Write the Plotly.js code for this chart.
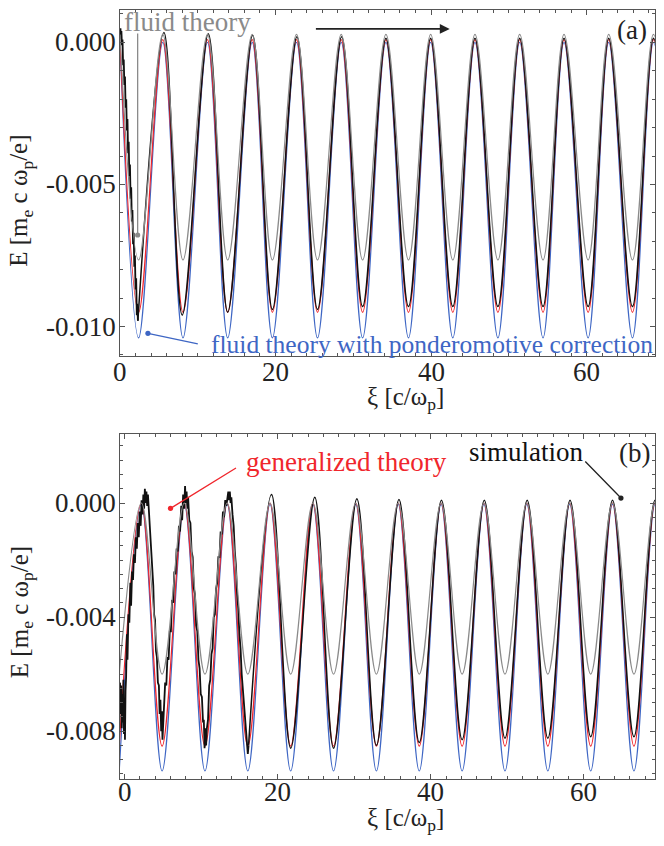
<!DOCTYPE html>
<html>
<head>
<meta charset="utf-8">
<script src="https://cdn.plot.ly/plotly-3.0.1.min.js"></script>
<style>
  html, body { margin: 0; padding: 0; background: #fff; }
  #chart { width: 664px; height: 846px; }
</style>
</head>
<body>
<div id="chart"></div>
<script>
// ---- panel (a): extrema ----
const aPeakX   = [0.0, 5.5, 11.25, 17.0, 22.7, 28.45, 34.2, 39.95, 45.65, 51.4, 57.1, 62.85, 68.6];
const aTroughX = [2.4, 8.1, 13.85, 19.6, 25.4, 31.2, 37.1, 42.8, 48.6, 54.4, 60.2, 65.9, 71.5];

const aFluidPeak    = [0.00028, 0.00028, 0.00028, 0.00028, 0.00028, 0.00028, 0.00028, 0.00028, 0.00028, 0.00028, 0.00028, 0.00028, 0.00028];
const aFluidTrough  = [-0.00766, -0.00766, -0.00766, -0.00766, -0.00766, -0.00766, -0.00766, -0.00766, -0.00766, -0.00766, -0.00766, -0.00766, -0.00766];
const aGenPeak      = [0.0001, 0.0001, 0.0001, 0.0001, 0.0001, 0.0001, 0.0001, 0.0001, 0.0001, 0.0001, 0.0001, 0.0001, 0.0001];
const aGenTrough    = [-0.0095, -0.0095, -0.0095, -0.0095, -0.0095, -0.0095, -0.0095, -0.0095, -0.0095, -0.0095, -0.0095, -0.0095, -0.0095];
const aPondPeak     = [0.0, 0.0, 0.0, 0.0, 0.0, 0.0, 0.0, 0.0, 0.0, 0.0, 0.0, 0.0, 0.0];
const aPondTrough   = [-0.0104, -0.0104, -0.0104, -0.0104, -0.0104, -0.0104, -0.0104, -0.0104, -0.0104, -0.0104, -0.0104, -0.0104, -0.0104];

// simulation: noisy head, then smooth extrema
const aSimNoiseX = [0.0, 0.06, 0.12, 0.18, 0.25, 0.32, 0.4, 0.48, 0.56, 0.64, 0.72, 0.8, 0.88, 0.96, 1.04, 1.12, 1.2, 1.28, 1.36, 1.44, 1.52, 1.6, 1.68, 1.76, 1.84, 1.92, 2.0, 2.08, 2.16, 2.23, 2.3];
const aSimNoiseY = [0.0001, 0.0005, 0.0001, 0.0004, -0.0001, 0.0001, -0.0008, -0.0006, -0.0015, -0.0012, -0.0023, -0.0020, -0.0031, -0.0027, -0.0039, -0.0035, -0.0047, -0.0043, -0.0055, -0.0051, -0.0063, -0.0059, -0.0071, -0.0067, -0.0079, -0.0075, -0.0087, -0.0083, -0.0096, -0.0092, -0.0098];
const aSimX = [2.3, 5.65, 8.0, 11.35, 13.85, 17.05, 19.6, 22.75, 25.4, 28.5, 31.2, 34.2, 37.1, 39.95, 42.8, 45.65, 48.6, 51.4, 54.4, 57.1, 60.2, 62.85, 65.9, 68.6, 71.5];
const aSimY = [-0.0098, 0.00035, -0.0096, 0.0003, -0.0095, 0.00025, -0.0094, 0.0002, -0.0094, 0.0002, -0.0093, 0.00015, -0.0093, 0.00015, -0.0093, 0.00015, -0.0093, 0.00015, -0.0093, 0.00015, -0.0093, 0.00015, -0.0093, 0.00015, -0.0093];

// ---- panel (b) ----
const bTroughX = [-0.7, 4.9, 10.5, 16.1, 21.7, 27.3, 32.9, 38.5, 44.1, 49.7, 55.3, 60.9, 66.55, 72.1];
const bPeakX   = [2.2, 7.8, 13.4, 19.0, 24.6, 30.2, 35.75, 41.35, 46.95, 52.55, 58.15, 63.75, 69.3];

const bFluidTrough = [-0.006, -0.006, -0.006, -0.006, -0.006, -0.006, -0.006, -0.006, -0.006, -0.006, -0.006, -0.006, -0.006, -0.006];
const bFluidPeak   = [0.0, 0.0, 0.0, 0.0, 0.0, 0.0, 0.0, 0.0, 0.0, 0.0, 0.0, 0.0, 0.0];
const bGenTrough   = [-0.00853, -0.00853, -0.00853, -0.00853, -0.00853, -0.00853, -0.00853, -0.00853, -0.00853, -0.00853, -0.00853, -0.00853, -0.00853, -0.00853];
const bGenPeak     = [0.0, 0.0, 0.0, 0.0, 0.0, 0.0, 0.0, 0.0, 0.0, 0.0, 0.0, 0.0, 0.0];
const bPondTrough  = [-0.0094, -0.0094, -0.0094, -0.0094, -0.0094, -0.0094, -0.0094, -0.0094, -0.0094, -0.0094, -0.0094, -0.0094, -0.0094, -0.0094];
const bPondPeak    = [-0.00005, -0.00005, -0.00005, -0.00005, -0.00005, -0.00005, -0.00005, -0.00005, -0.00005, -0.00005, -0.00005, -0.00005, -0.00005];

const bSimNoiseX = [-0.6, -0.52, -0.45, -0.38, -0.3, -0.22, -0.15, -0.08, 0.0, 0.05, 0.12,
  0.2, 0.3, 0.38, 0.5, 0.62, 0.75, 0.85, 0.98, 1.1, 1.22, 1.35, 1.48, 1.6, 1.72, 1.85, 1.98, 2.1, 2.22, 2.35, 2.45, 2.55, 2.65, 2.75, 2.85, 2.95, 3.05, 3.15,
  3.25, 3.38, 3.5, 3.62, 3.75, 3.85, 3.98, 4.1, 4.22, 4.35, 4.48, 4.58, 4.68, 4.78, 4.88, 4.95, 5.05,
  5.15, 5.3, 5.45, 5.6, 5.75, 5.9, 6.05, 6.2, 6.35, 6.5, 6.65, 6.8, 6.95, 7.1, 7.25, 7.4, 7.52, 7.65, 7.78, 7.9, 8.0, 8.1, 8.2, 8.3,
  8.45, 8.6, 8.75, 8.9, 9.05, 9.2, 9.35, 9.5, 9.65, 9.8, 9.95, 10.1, 10.25, 10.35, 10.45, 10.55, 10.65, 10.75,
  10.9, 11.05, 11.2, 11.35, 11.5, 11.65, 11.8, 11.95, 12.1, 12.25, 12.4, 12.55, 12.7, 12.85, 13.0, 13.15, 13.3, 13.42, 13.55, 13.65, 13.75, 13.85, 13.95,
  14.1, 14.25, 14.4, 14.55, 14.7, 14.85, 15.0, 15.15, 15.3, 15.45, 15.6, 15.75, 15.88, 16.0, 16.1, 16.2];
const bSimNoiseY = [-0.0063, -0.0074, -0.0064, -0.0079, -0.0067, -0.0077, -0.0062, -0.0081, -0.0069, -0.0083, -0.0066,
  -0.0061, -0.0046, -0.0055, -0.0039, -0.0042, -0.0028, -0.0036, -0.0024, -0.0027, -0.0018, -0.0021, -0.0012, -0.0016, -0.0007, -0.0012, -0.0003, -0.0008, 0.0001, -0.0004, 0.0003, -0.0002, 0.0005, 0.0000, 0.0004, -0.0001, 0.0003, -0.0002,
  -0.0004, -0.0013, -0.0016, -0.0026, -0.0029, -0.0039, -0.0041, -0.0052, -0.0054, -0.0063, -0.0064, -0.0074, -0.0069, -0.0080, -0.0073, -0.0083, -0.0076,
  -0.0074, -0.0063, -0.0064, -0.0054, -0.0055, -0.0045, -0.0045, -0.0034, -0.0035, -0.0024, -0.0025, -0.0016, -0.0017, -0.0008, -0.0010, -0.0001, -0.0006, 0.0003, -0.0002, 0.0006, 0.0000, 0.0004, -0.0002, 0.0002,
  -0.0006, -0.0007, -0.0017, -0.0019, -0.0030, -0.0032, -0.0043, -0.0045, -0.0055, -0.0058, -0.0067, -0.0068, -0.0077, -0.0076, -0.0086, -0.0079, -0.0085, -0.0079,
  -0.0076, -0.0064, -0.0062, -0.0053, -0.0051, -0.0040, -0.0039, -0.0030, -0.0028, -0.0019, -0.0019, -0.0010, -0.0011, -0.0003, -0.0005, 0.0001, -0.0001, 0.0002, 0.0004, 0.0001, 0.0004, 0.0000, 0.0002,
  -0.0004, -0.0008, -0.0017, -0.0022, -0.0032, -0.0037, -0.0046, -0.0051, -0.0060, -0.0065, -0.0072, -0.0076, -0.0082, -0.0083, -0.0088, -0.0085];
const bSimX = [16.2, 19.2, 21.7, 24.85, 27.3, 30.35, 32.9, 35.85, 38.5, 41.4, 44.1, 47.0, 49.7, 52.6, 55.3, 58.2, 60.9, 63.75, 66.55, 69.3, 72.1];
const bSimY = [-0.0085, 0.0003, -0.0086, 0.0002, -0.0086, 0.00015, -0.0085, 0.00012, -0.0084, 0.0001, -0.0083, 0.0001, -0.00825, 0.0001, -0.00825, 0.0001, -0.0082, 0.0001, -0.0082, 0.0001, -0.0082];

// tick labels
const aXTicks = [0, 20, 40, 60];
const aYTicks = [0, -0.005, -0.010];
const aYLabels = ['0.000', '-0.005', '-0.010'];
const bXTicks = [0, 20, 40, 60];
const bYTicks = [0, -0.004, -0.008];
const bYLabels = ['0.000', '-0.004', '-0.008'];

// merge two extrema lists (first list starts the curve)
function weave(firstX, firstY, secondX, secondY) {
  const xs = [], ys = [];
  for (let i = 0; i < firstX.length; i++) {
    xs.push(firstX[i]); ys.push(firstY[i]);
    if (i < secondX.length) { xs.push(secondX[i]); ys.push(secondY[i]); }
  }
  return { x: xs, y: ys };
}

const GRAY = '#8a8a8a', RED = '#f0262c', BLUE = '#3e66c4', BLACK = '#111';
const FONT = '"Liberation Serif", "DejaVu Serif", serif';
const TICKFONT = { family: FONT, size: 27, color: '#222' };

function smooth(pts, color, xa, ya, w) {
  return { x: pts.x, y: pts.y, xaxis: xa, yaxis: ya, type: 'scatter', mode: 'lines',
    line: { color: color, width: w || 1.2, shape: 'spline', smoothing: 1 }, hoverinfo: 'skip' };
}
function rough(xs, ys, color, xa, ya, w) {
  return { x: xs, y: ys, xaxis: xa, yaxis: ya, type: 'scatter', mode: 'lines',
    line: { color: color, width: w }, hoverinfo: 'skip' };
}

const traces = [
  smooth(weave(aPeakX, aPondPeak, aTroughX, aPondTrough), BLUE, 'x', 'y'),
  smooth(weave(aPeakX, aGenPeak, aTroughX, aGenTrough), RED, 'x', 'y'),
  rough(aSimNoiseX, aSimNoiseY, BLACK, 'x', 'y', 1.8),
  smooth({ x: aSimX, y: aSimY }, BLACK, 'x', 'y', 1.5),
  smooth(weave(aPeakX, aFluidPeak, aTroughX, aFluidTrough), GRAY, 'x', 'y'),

  smooth(weave(bTroughX, bPondTrough, bPeakX, bPondPeak), BLUE, 'x2', 'y2'),
  smooth(weave(bTroughX, bGenTrough, bPeakX, bGenPeak), RED, 'x2', 'y2'),
  rough(bSimNoiseX, bSimNoiseY, BLACK, 'x2', 'y2', 1.8),
  smooth({ x: bSimX, y: bSimY }, BLACK, 'x2', 'y2', 1.5),
  smooth(weave(bTroughX, bFluidTrough, bPeakX, bFluidPeak), GRAY, 'x2', 'y2')
];

function axis(extra) {
  return Object.assign({
    showgrid: false, zeroline: false, showline: true, linecolor: '#555', linewidth: 1,
    mirror: 'allticks', ticks: 'inside', ticklen: 5, tickcolor: '#555', tickwidth: 1,
    tickmode: 'array', showticklabels: false
  }, extra);
}

// tick labels placed next to the axes (closer than plotly's default offset)
function xLabels(vals, xref, paperY, shift) {
  return vals.map(v => ({ xref: xref, yref: 'paper', x: v, y: paperY, yshift: shift,
    xanchor: 'center', yanchor: 'middle', text: String(v), showarrow: false, font: TICKFONT }));
}
function yLabels(vals, texts, yref) {
  return vals.map((v, i) => ({ xref: 'paper', yref: yref, x: 0, xshift: -2, y: v,
    xanchor: 'right', yanchor: 'middle', text: texts[i], showarrow: false, font: TICKFONT }));
}

const layout = {
  width: 664, height: 846,
  margin: { l: 120, r: 9, t: 10, b: 67 },
  paper_bgcolor: '#fff', plot_bgcolor: '#fff',
  showlegend: false,
  font: { family: FONT },
  xaxis: axis({ domain: [0, 1], anchor: 'y', range: [0, 68.8], tickvals: aXTicks,
    minor: { ticks: 'inside', ticklen: 3, tickmode: 'linear', tick0: 0, dtick: 2, tickcolor: '#555' } }),
  yaxis: axis({ domain: [0.55, 1], anchor: 'x', range: [-0.01104, 0.00114], tickvals: aYTicks,
    minor: { ticks: 'inside', ticklen: 3, tickmode: 'linear', tick0: 0, dtick: 0.001, tickcolor: '#555' } }),
  xaxis2: axis({ domain: [0, 1], anchor: 'y2', range: [-0.6, 69.3], tickvals: bXTicks,
    minor: { ticks: 'inside', ticklen: 3, tickmode: 'linear', tick0: 0, dtick: 2, tickcolor: '#555' } }),
  yaxis2: axis({ domain: [0, 0.4486], anchor: 'x2', range: [-0.00968, 0.00242], tickvals: bYTicks,
    minor: { ticks: 'inside', ticklen: 3, tickmode: 'linear', tick0: 0, dtick: 0.0005, tickcolor: '#555' } }),
  annotations: [
    ...xLabels(aXTicks, 'x', 0.55, -16),
    ...yLabels(aYTicks, aYLabels, 'y'),
    ...xLabels(bXTicks, 'x2', 0, -13),
    ...yLabels(bYTicks, bYLabels, 'y2'),

    // axis titles
    { xref: 'paper', yref: 'paper', x: -0.185, y: 0.752, xanchor: 'center', yanchor: 'middle',
      text: 'E [m<sub>e</sub> c ω<sub>p</sub>/e]', textangle: -90,
      showarrow: false, font: { family: FONT, size: 25, color: '#222' } },
    { xref: 'paper', yref: 'paper', x: 0.533, y: 0.4954, xanchor: 'center', yanchor: 'middle',
      text: 'ξ [c/ω<sub>p</sub>]', showarrow: false, font: { family: FONT, size: 25, color: '#222' } },
    { xref: 'paper', yref: 'paper', x: -0.185, y: 0.217, xanchor: 'center', yanchor: 'middle',
      text: 'E [m<sub>e</sub> c ω<sub>p</sub>/e]', textangle: -90,
      showarrow: false, font: { family: FONT, size: 25, color: '#222' } },
    { xref: 'paper', yref: 'paper', x: 0.533, y: -0.053, xanchor: 'center', yanchor: 'middle',
      text: 'ξ [c/ω<sub>p</sub>]', showarrow: false, font: { family: FONT, size: 25, color: '#222' } },

    // panel (a)
    { xref: 'x', yref: 'y', x: 0.2, y: 0.00072, xanchor: 'left', yanchor: 'middle', text: 'fluid theory',
      showarrow: false, font: { family: FONT, size: 27, color: GRAY } },
    { xref: 'x', yref: 'y', x: 2.27, y: -0.00678, axref: 'x', ayref: 'y', ax: 2.27, ay: 0.00037, text: '',
      showarrow: true, arrowhead: 6, arrowsize: 1, arrowwidth: 1.3, arrowcolor: GRAY },
    { xref: 'x', yref: 'y', x: 42.4, y: 0.000475, axref: 'x', ayref: 'y', ax: 25.0, ay: 0.000475, text: '',
      showarrow: true, arrowhead: 2, arrowsize: 1.1, arrowwidth: 1.8, arrowcolor: '#222' },
    { xref: 'x', yref: 'y', x: 65.8, y: 0.00044, xanchor: 'center', yanchor: 'middle', text: '(a)',
      showarrow: false, font: { family: FONT, size: 27, color: '#222' } },
    { xref: 'x', yref: 'y', x: 11.5, y: -0.01065, xanchor: 'left', yanchor: 'middle',
      text: 'fluid theory with ponderomotive correction',
      showarrow: false, font: { family: FONT, size: 25.5, color: BLUE } },
    { xref: 'x', yref: 'y', x: 3.59, y: -0.01024, axref: 'x', ayref: 'y', ax: 10.2, ay: -0.01062, text: '',
      showarrow: true, arrowhead: 6, arrowsize: 1, arrowwidth: 1.3, arrowcolor: BLUE },

    // panel (b)
    { xref: 'x2', yref: 'y2', x: 29.05, y: 0.00144, xanchor: 'center', yanchor: 'middle', text: 'generalized theory',
      showarrow: false, font: { family: FONT, size: 27, color: RED } },
    { xref: 'x2', yref: 'y2', x: 6.0, y: -0.000186, axref: 'x2', ayref: 'y2', ax: 14.75, ay: 0.00126, text: '',
      showarrow: true, arrowhead: 6, arrowsize: 1, arrowwidth: 1.3, arrowcolor: RED },
    { xref: 'x2', yref: 'y2', x: 52.4, y: 0.00179, xanchor: 'center', yanchor: 'middle', text: 'simulation',
      showarrow: false, font: { family: FONT, size: 27, color: '#111' } },
    { xref: 'x2', yref: 'y2', x: 64.85, y: 0.000175, axref: 'x2', ayref: 'y2', ax: 60.0, ay: 0.00151, text: '',
      showarrow: true, arrowhead: 6, arrowsize: 1, arrowwidth: 1.3, arrowcolor: '#222' },
    { xref: 'x2', yref: 'y2', x: 66.6, y: 0.00175, xanchor: 'center', yanchor: 'middle', text: '(b)',
      showarrow: false, font: { family: FONT, size: 27, color: '#222' } }
  ]
};

Plotly.newPlot('chart', traces, layout, { displayModeBar: false, staticPlot: true });
</script>
</body>
</html>
